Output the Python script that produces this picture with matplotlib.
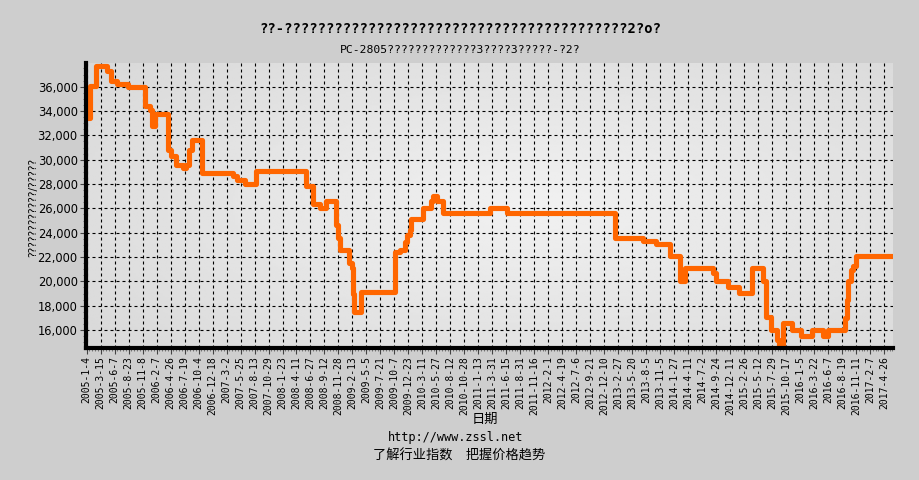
import numpy as np
import pandas as pd
import matplotlib
matplotlib.use("Agg")
import matplotlib.pyplot as plt
from matplotlib.ticker import FixedLocator, MultipleLocator, FuncFormatter

# ==========================================
# DATA
# ==========================================

TITLE = "??-?????????????????????????????????????????2?o?"
SUBTITLE = "PC-2805?????????????3????3?????-?2?"
Y_LABEL = "????????????/?????"
X_LABEL = "日期"
FOOT_URL = "http://www.zssl.net"
FOOT_TEXT = "了解行业指数\u3000把握价格趋势"

TICK_DATES = [
    "2005-1-4", "2005-3-15", "2005-6-7", "2005-8-23", "2005-11-8", "2006-2-7",
    "2006-4-26", "2006-7-19", "2006-10-4", "2006-12-18", "2007-3-2", "2007-5-25",
    "2007-8-13", "2007-10-29", "2008-1-23", "2008-4-11", "2008-6-27", "2008-9-12",
    "2008-11-28", "2009-2-13", "2009-5-5", "2009-7-21", "2009-10-7", "2009-12-23",
    "2010-3-11", "2010-5-27", "2010-8-12", "2010-10-28", "2011-1-13", "2011-3-31",
    "2011-6-15", "2011-8-31", "2011-11-16", "2012-2-1", "2012-4-19", "2012-7-6",
    "2012-9-21", "2012-12-10", "2013-2-27", "2013-5-20", "2013-8-5", "2013-11-5",
    "2014-1-27", "2014-4-11", "2014-7-2", "2014-9-24", "2014-12-11", "2015-2-26",
    "2015-5-12", "2015-7-29", "2015-10-17", "2016-1-5", "2016-3-22", "2016-6-7",
    "2016-8-19", "2016-11-11", "2017-2-7", "2017-4-26",
]

# price level changes (value holds until the next date)
STEP_DATES = [
    "2005-1-4", "2005-1-19", "2005-1-23", "2005-2-22", "2005-4-23", "2005-5-14",
    "2005-6-20", "2005-8-17", "2005-11-22", "2005-12-29", "2006-1-11", "2006-1-26",
    "2006-4-12", "2006-5-1", "2006-5-31", "2006-7-10", "2006-7-26", "2006-8-13",
    "2006-8-26", "2006-10-20", "2007-4-10", "2007-5-4", "2007-6-19", "2007-8-20",
    "2008-6-5", "2008-7-12", "2008-8-17", "2008-9-20", "2008-11-17", "2008-11-26",
    "2008-12-6", "2009-1-25", "2009-2-8", "2009-2-17", "2009-2-21", "2009-4-1",
    "2009-10-9", "2009-11-6", "2009-12-4", "2009-12-16", "2009-12-31", "2010-1-9",
    "2010-3-15", "2010-4-30", "2010-5-9", "2010-5-31", "2010-7-4", "2011-3-17",
    "2011-6-20", "2013-2-8", "2013-7-20", "2013-10-7", "2014-1-1", "2014-2-26",
    "2014-3-24", "2014-9-6", "2014-9-26", "2014-11-30", "2015-1-30", "2015-4-7",
    "2015-6-10", "2015-6-23", "2015-6-28", "2015-7-26", "2015-8-24", "2015-9-9",
    "2015-10-2", "2015-11-18", "2016-1-10", "2016-3-9", "2016-5-8", "2016-6-8",
    "2016-9-6", "2016-9-16", "2016-9-26", "2016-10-10", "2016-10-25", "2016-11-14",
    "2017-6-7",
]
STEP_VALUES = [
    33400, 33800, 36100, 37700, 37300, 36500,
    36250, 36000, 34400, 34100, 32800, 33750,
    30800, 30300, 29600, 29300, 29600, 30800,
    31600, 28900, 28700, 28300, 28000, 29050,
    27800, 26350, 26050, 26600, 24600, 23600,
    22600, 21500, 21100, 19000, 17500, 19100,
    22450, 22600, 23200, 23800, 24200, 25100,
    26000, 26600, 27050, 26600, 25650, 26050,
    25650, 23600, 23300, 23050, 22100, 20000,
    21100, 20650, 20000, 19500, 19050, 21100,
    20000, 18400, 17100, 16000, 15200, 14600,
    16550, 16000, 15500, 16000, 15500, 16000,
    17000, 18500, 20000, 20900, 21300, 22050,
    22050,
]

# ==========================================
# DATE -> CATEGORY POSITION
# ==========================================

def to_pos(dates):
    d = pd.to_datetime(dates, format="%Y-%m-%d").map(pd.Timestamp.toordinal).values.astype(float)
    t = pd.to_datetime(TICK_DATES, format="%Y-%m-%d").map(pd.Timestamp.toordinal).values.astype(float)
    k = np.arange(len(t), dtype=float)
    # carry the last interval on past the last label
    t = np.append(t, 2 * t[-1] - t[-2])
    k = np.append(k, k[-1] + 1)
    return np.interp(d, t, k)

x = to_pos(STEP_DATES)
tick_pos = np.arange(len(TICK_DATES))

# ==========================================
# FIGURE
# ==========================================

fig = plt.figure(figsize=(9.2, 4.8), dpi=100)
fig.patch.set_facecolor("#cecece")

ax = fig.add_axes([86 / 920, 1 - 348 / 480, (893 - 86) / 920, (348 - 63) / 480])

# soft radial shading of the plot area
gx, gy = np.meshgrid(np.linspace(0, 1, 300), np.linspace(0, 1, 200))
r = np.sqrt(((gx - 0.55) / 0.8) ** 2 + ((gy - 0.5) / 0.9) ** 2)
shade = 0.945 - 0.11 * np.clip(r, 0, 1)
ax.imshow(shade, extent=[0, 1, 0, 1], transform=ax.transAxes, cmap="gray",
          vmin=0, vmax=1, aspect="auto", zorder=0, interpolation="bilinear")

ax.plot(x, STEP_VALUES, drawstyle="steps-post", color="#ff6600", lw=3.7, zorder=3)

ax.set_xlim(-0.05, 57.65)
ax.set_ylim(14520, 37950)
ax.set_autoscale_on(False)

ax.xaxis.set_major_locator(FixedLocator(tick_pos))
ax.set_xticklabels(TICK_DATES, rotation=90, family="DejaVu Sans Mono", fontsize=7.0)
ax.xaxis.set_minor_locator(MultipleLocator(0.2))
ax.yaxis.set_major_locator(MultipleLocator(2000))
ax.yaxis.set_minor_locator(MultipleLocator(500))
ax.yaxis.set_major_formatter(FuncFormatter(lambda v, p: f"{v:,.0f}"))
for lab in ax.get_yticklabels():
    lab.set_family("DejaVu Sans")
    lab.set_fontsize(8.3)

ax.tick_params(axis="both", which="major", length=4, width=0.8, color="#444444", pad=2)
ax.tick_params(axis="both", which="minor", length=2, width=0.6, color="#666666")

ax.grid(True, which="major", color="black", linestyle=(0, (2.7, 2.7)), linewidth=0.8)
ax.set_axisbelow(False)

for s in ["top", "right"]:
    ax.spines[s].set_visible(False)
for s in ["left", "bottom"]:
    ax.spines[s].set_linewidth(3)
    ax.spines[s].set_color("black")
    ax.spines[s].set_zorder(4)

# ==========================================
# TEXT
# ==========================================

fig.text(0.5, 1 - 29 / 480, TITLE, ha="center", va="center",
         family="DejaVu Sans Mono", fontweight="bold", fontsize=10)
fig.text(0.5, 1 - 50 / 480, SUBTITLE, ha="center", va="center",
         family="DejaVu Sans Mono", fontsize=8.2)
fig.text(33 / 920, 1 - 207 / 480, Y_LABEL, ha="center", va="center", rotation=90,
         family="DejaVu Sans", fontsize=7.6)
fig.text(485 / 920, 1 - 419 / 480, X_LABEL, ha="center", va="center",
         family=["Noto Sans CJK SC", "DejaVu Sans"], fontsize=9.5)
fig.text(456 / 920, 1 - 437 / 480, FOOT_URL, ha="center", va="center",
         family="DejaVu Sans Mono", fontsize=8.6)
fig.text(459 / 920, 1 - 456 / 480, FOOT_TEXT, ha="center", va="center",
         family=["Noto Sans CJK SC", "DejaVu Sans"], fontsize=9.5)

fig.savefig("out.png", dpi=100, facecolor=fig.get_facecolor())
